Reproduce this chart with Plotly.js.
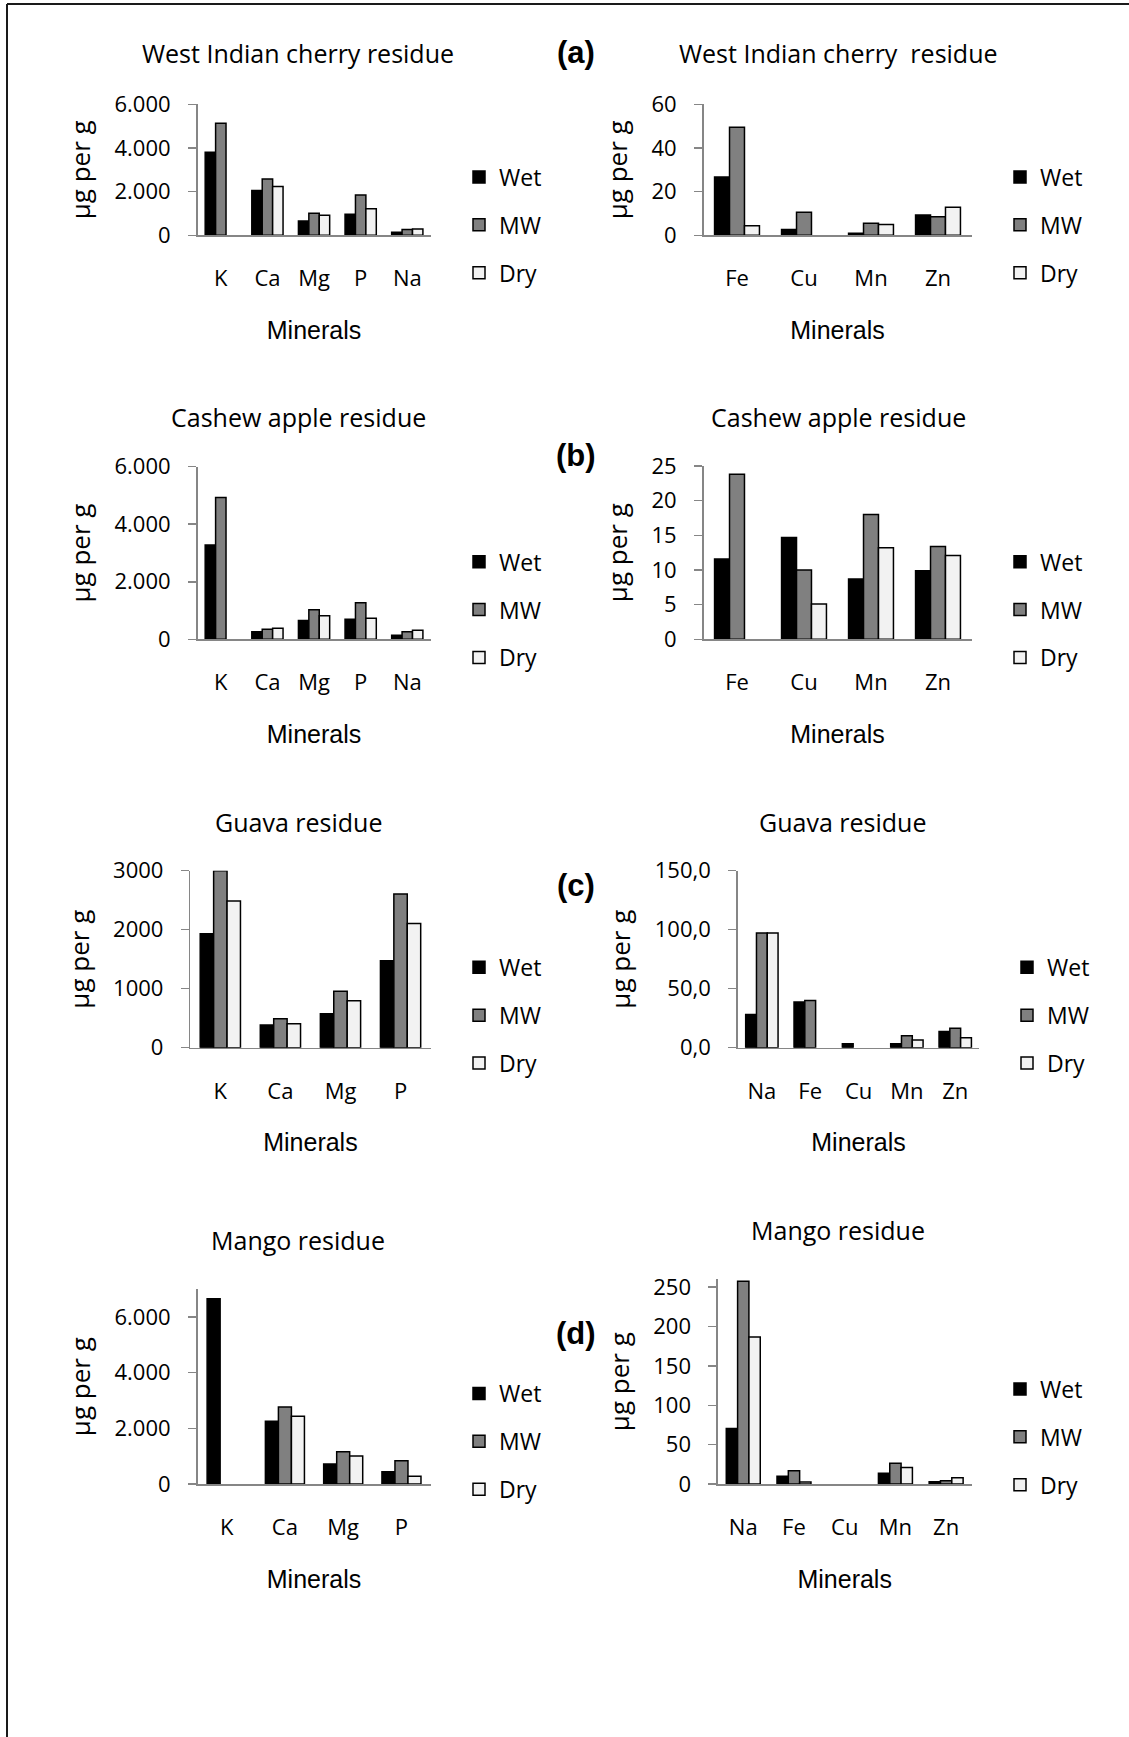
<!DOCTYPE html>
<html><head><meta charset="utf-8">
<script src="https://cdn.plot.ly/plotly-3.0.1.min.js"></script>
<style>html,body{margin:0;padding:0;background:#fff}</style>
</head><body><div id="chart" style="width:1129px;height:1737px"></div>
<script>
// ---------- DATA ----------
const seriesNames = ['Wet', 'MW', 'Dry'];
const macroMinerals5 = ['K', 'Ca', 'Mg', 'P', 'Na'];
const macroMinerals4 = ['K', 'Ca', 'Mg', 'P'];
const traceMinerals4 = ['Fe', 'Cu', 'Mn', 'Zn'];
const traceMinerals5 = ['Na', 'Fe', 'Cu', 'Mn', 'Zn'];

// (a) West Indian cherry residue
const cherryMacroWet = [3800, 2050, 660, 960, 140];
const cherryMacroMW  = [5130, 2580, 1010, 1850, 260];
const cherryMacroDry = [null, 2230, 920, 1220, 290];
const cherryTraceWet = [26.7, 2.6, 0.9, 9.3];
const cherryTraceMW  = [49.5, 10.5, 5.5, 8.5];
const cherryTraceDry = [4.4, null, 5.0, 12.8];

// (b) Cashew apple residue
const cashewMacroWet = [3280, 266, 650, 695, 139];
const cashewMacroMW  = [4930, 347, 1030, 1274, 266];
const cashewMacroDry = [null, 382, 822, 730, 313];
const cashewTraceWet = [11.6, 14.7, 8.7, 9.9];
const cashewTraceMW  = [23.8, 10.0, 18.0, 13.4];
const cashewTraceDry = [null, 5.1, 13.2, 12.1];

// (c) Guava residue
const guavaMacroWet = [1930, 384, 576, 1475];
const guavaMacroMW  = [3000, 492, 955, 2605];
const guavaMacroDry = [2486, 407, 797, 2107];
const guavaTraceWet = [28.2, 38.7, 3.4, 3.4, 13.8];
const guavaTraceMW  = [97.2, 40.1, null, 10.2, 16.4];
const guavaTraceDry = [97.2, null, null, 6.5, 8.5];

// (d) Mango residue
const mangoMacroWet = [6660, 2260, 717, 442];
const mangoMacroMW  = [null, 2770, 1160, 837];
const mangoMacroDry = [null, 2440, 1004, 275];
const mangoTraceWet = [70.5, 9.7, null, 13.5, 3.0];
const mangoTraceMW  = [257.6, 16.9, null, 26.2, 4.2];
const mangoTraceDry = [186.7, 2.5, null, 21.1, 8.0];

const panelTitles = ['West Indian cherry residue', 'West Indian cherry\u00a0 residue',
  'Cashew apple residue', 'Cashew apple residue',
  'Guava residue', 'Guava residue', 'Mango residue', 'Mango residue'];
const panelLabels = ['(a)', '(b)', '(c)', '(d)'];
const xTitle = 'Minerals';
const yTitle = 'µg per g';

// ---------- LAYOUT CONFIG ----------
const W = 1129, H = 1737;
const px = v => v / W, py = v => 1 - v / H;
const CAL = '"Open Sans", Carlito, Calibri, sans-serif';
const ARIAL = 'Arial, "Liberation Sans", sans-serif';
const colors = ['#000000', '#808080', '#f2f2f2'];

const panels = [
  {cats: macroMinerals5, vals: [cherryMacroWet, cherryMacroMW, cherryMacroDry], x: [197.5, 430.6], y: [104.3, 235.3], range: [0, 6000], dtick: 2000, fmt: ',d', t: [298, 53], leg: [459, 155.5]},
  {cats: traceMinerals4, vals: [cherryTraceWet, cherryTraceMW, cherryTraceDry], x: [703.5, 971.5], y: [104.3, 235.3], range: [0, 60], dtick: 20, fmt: 'd', t: [838.4, 53], leg: [1000, 155.5]},
  {cats: macroMinerals5, vals: [cashewMacroWet, cashewMacroMW, cashewMacroDry], x: [197.5, 430.6], y: [466.7, 639.3], range: [0, 6000], dtick: 2000, fmt: ',d', t: [298.2, 416.7], leg: [459, 540.2]},
  {cats: traceMinerals4, vals: [cashewTraceWet, cashewTraceMW, cashewTraceDry], x: [703.5, 971.5], y: [466.0, 639.3], range: [0, 25], dtick: 5, fmt: 'd', t: [838.4, 416.7], leg: [1000, 540.2]},
  {cats: macroMinerals4, vals: [guavaMacroWet, guavaMacroMW, guavaMacroDry], x: [190.3, 430.6], y: [870.7, 1047.7], range: [0, 3000], dtick: 1000, fmt: 'd', t: [298.2, 821.7], leg: [459, 945.8]},
  {cats: traceMinerals5, vals: [guavaTraceWet, guavaTraceMW, guavaTraceDry], x: [737.7, 979.4], y: [870.7, 1047.7], range: [0, 150], dtick: 50, fmt: '.1f', t: [842.9, 821.7], leg: [1007, 945.8]},
  {cats: macroMinerals4, vals: [mangoMacroWet, mangoMacroMW, mangoMacroDry], x: [197.5, 430.6], y: [1289.3, 1484], range: [0, 7000], dtick: 2000, fmt: ',d', t: [298.2, 1240], leg: [459, 1372]},
  {cats: traceMinerals5, vals: [mangoTraceWet, mangoTraceMW, mangoTraceDry], x: [717.9, 971.5], y: [1279.3, 1484], range: [0, 260], dtick: 50, fmt: 'd', t: [838.4, 1230], leg: [1000, 1367.5]}
];
const labelPos = [[575.5, 53], [575.5, 456], [575.5, 885], [575.5, 1333]];

const data = [];
const layout = {
  width: W, height: H,
  margin: {l: 0, r: 0, t: 0, b: 0, pad: 0},
  paper_bgcolor: '#ffffff', plot_bgcolor: '#ffffff',
  font: {family: CAL, color: '#000000'},
  separators: ',.',
  barmode: 'group', bargap: 0.33, bargroupgap: 0,
  hovermode: false,
  showlegend: true,
  annotations: [],
  shapes: [
    {type: 'line', xref: 'paper', yref: 'paper', x0: px(7), x1: px(1135), y0: py(4), y1: py(4), line: {color: '#1a1a1a', width: 2}},
    {type: 'line', xref: 'paper', yref: 'paper', x0: px(7), x1: px(7), y0: py(4), y1: py(1745), line: {color: '#1a1a1a', width: 2}}
  ]
};

panels.forEach((p, i) => {
  const n = i + 1;
  const xa = n === 1 ? 'x' : 'x' + n;
  const ya = n === 1 ? 'y' : 'y' + n;
  const lg = n === 1 ? 'legend' : 'legend' + n;
  p.vals.forEach((v, s) => {
    data.push({
      type: 'bar', x: p.cats, y: v, name: seriesNames[s],
      xaxis: xa, yaxis: ya, legend: lg, legendgroup: 'p' + n + 's' + s,
      marker: {color: colors[s], line: {color: '#000000', width: 1.5}},
      hoverinfo: 'skip'
    });
  });
  layout['xaxis' + (n === 1 ? '' : n)] = {
    domain: [px(p.x[0]), px(p.x[1])], anchor: ya, type: 'category',
    showline: true, linecolor: '#868686', linewidth: 1.5,
    ticks: '', showgrid: false, zeroline: false, fixedrange: true,
    tickfont: {family: CAL, size: 22, color: '#000'}, ticklabelstandoff: 23,
    title: {text: xTitle, font: {family: ARIAL, size: 25, color: '#000'}, standoff: 30}
  };
  layout['yaxis' + (n === 1 ? '' : n)] = {
    domain: [py(p.y[1]), py(p.y[0])], anchor: xa,
    range: p.range, dtick: p.dtick, tick0: 0, tickformat: p.fmt,
    showline: true, linecolor: '#868686', linewidth: 1.5,
    ticks: 'outside', ticklen: 8, tickwidth: 1.5, tickcolor: '#868686',
    showgrid: false, zeroline: false, fixedrange: true,
    tickfont: {family: CAL, size: 22, color: '#000'}, ticklabelstandoff: 13,
    title: {text: yTitle, font: {family: CAL, size: 26, color: '#000'}, standoff: 16}
  };
  layout[lg] = {
    x: px(p.leg[0]), xanchor: 'left', y: py(p.leg[1]), yanchor: 'top',
    bgcolor: 'rgba(0,0,0,0)', borderwidth: 0,
    font: {family: CAL, size: 23, color: '#000'},
    traceorder: 'grouped', tracegroupgap: 15, itemwidth: 30
  };
  layout.annotations.push({
    xref: 'paper', yref: 'paper', x: px(p.t[0]), y: py(p.t[1]),
    xanchor: 'center', yanchor: 'middle', showarrow: false,
    text: panelTitles[i], font: {family: CAL, size: 25, color: '#000'}
  });
});

panelLabels.forEach((t, k) => {
  layout.annotations.push({
    xref: 'paper', yref: 'paper', x: px(labelPos[k][0]), y: py(labelPos[k][1]),
    xanchor: 'center', yanchor: 'middle', showarrow: false,
    text: '<b>' + t + '</b>', font: {family: ARIAL, size: 31, color: '#000'}
  });
});

Plotly.newPlot('chart', data, layout, {displayModeBar: false, staticPlot: true});
</script>
</body></html>
